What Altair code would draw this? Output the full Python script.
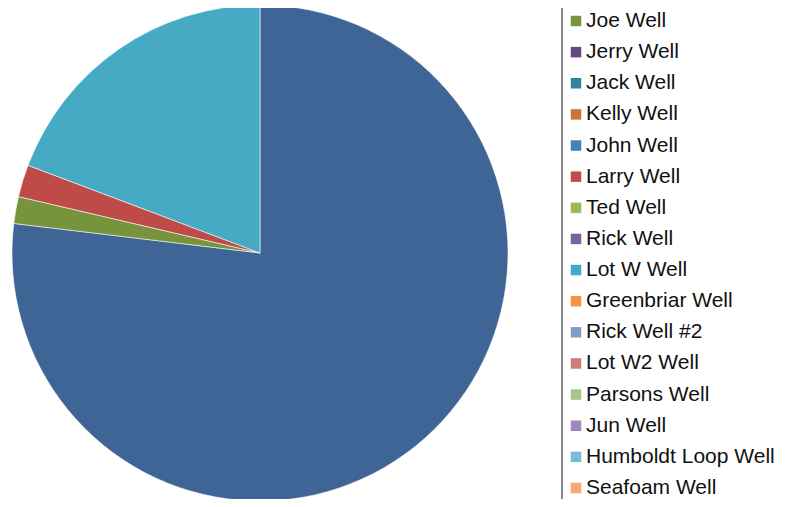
import altair as alt
import pandas as pd

# Legend entries (visible part of the legend)
legend_names = ["Joe Well", "Jerry Well", "Jack Well", "Kelly Well", "John Well",
                "Larry Well", "Ted Well", "Rick Well", "Lot W Well", "Greenbriar Well",
                "Rick Well #2", "Lot W2 Well", "Parsons Well", "Jun Well",
                "Humboldt Loop Well", "Seafoam Well"]
legend_colors = ["#77933C", "#604A7B", "#31859C", "#CB7536", "#4A7EBB",
                 "#BE4B48", "#98B954", "#7D60A0", "#46AAC5", "#F69240",
                 "#809EC8", "#CE7B7A", "#A9C585", "#9C89B8", "#78BCD1", "#F9A870"]

# Slices (clockwise from 12 o'clock); first slice's legend entry is cut off above
slice_names = ["Well (entry cut off)", "Joe Well", "Larry Well", "Lot W Well"]
slice_values = [76.9, 1.75, 2.1, 19.25]
hidden_color = "#3E6596"

all_names = [slice_names[0]] + legend_names
all_colors = [hidden_color] + legend_colors
color_scale = alt.Scale(domain=all_names, range=all_colors)

pie_df = pd.DataFrame({"name": slice_names, "value": slice_values,
                       "ord": list(range(len(slice_names)))})
leg_df = pd.DataFrame({"name": legend_names})

pie = alt.Chart(pie_df).mark_arc(outerRadius=248, stroke="white", strokeWidth=0.7,
                                 strokeOpacity=0.8).encode(
    theta=alt.Theta("value:Q", stack=True),
    color=alt.Color("name:N", scale=color_scale, legend=None),
    order=alt.Order("ord:Q"),
    x=alt.value(252),
    y=alt.value(245),
)

yscale = alt.Y("name:N", sort=legend_names, axis=None,
               scale=alt.Scale(type="point", range=[13, 480], padding=0))

squares = alt.Chart(leg_df).mark_square(size=110, opacity=1).encode(
    x=alt.value(568),
    y=yscale,
    color=alt.Color("name:N", scale=color_scale, legend=None),
)

labels = alt.Chart(leg_df).mark_text(align="left", baseline="middle", fontSize=21,
                                     font="Liberation Sans", color="#111111").encode(
    x=alt.value(578),
    y=yscale,
    text="name:N",
)

rule = alt.Chart(leg_df).mark_rule(color="#8a8a8a", strokeWidth=1.5).encode(
    x=alt.value(554), y=alt.value(-10), y2=alt.value(500)
)

chart = alt.layer(pie, rule, squares, labels).properties(
    width=769, height=491,
    autosize=alt.AutoSizeParams(type="none"),
    padding=0,
    background="white",
).configure_view(stroke=None)

chart.save("out.html", embed_options={"renderer": "svg", "actions": False})
